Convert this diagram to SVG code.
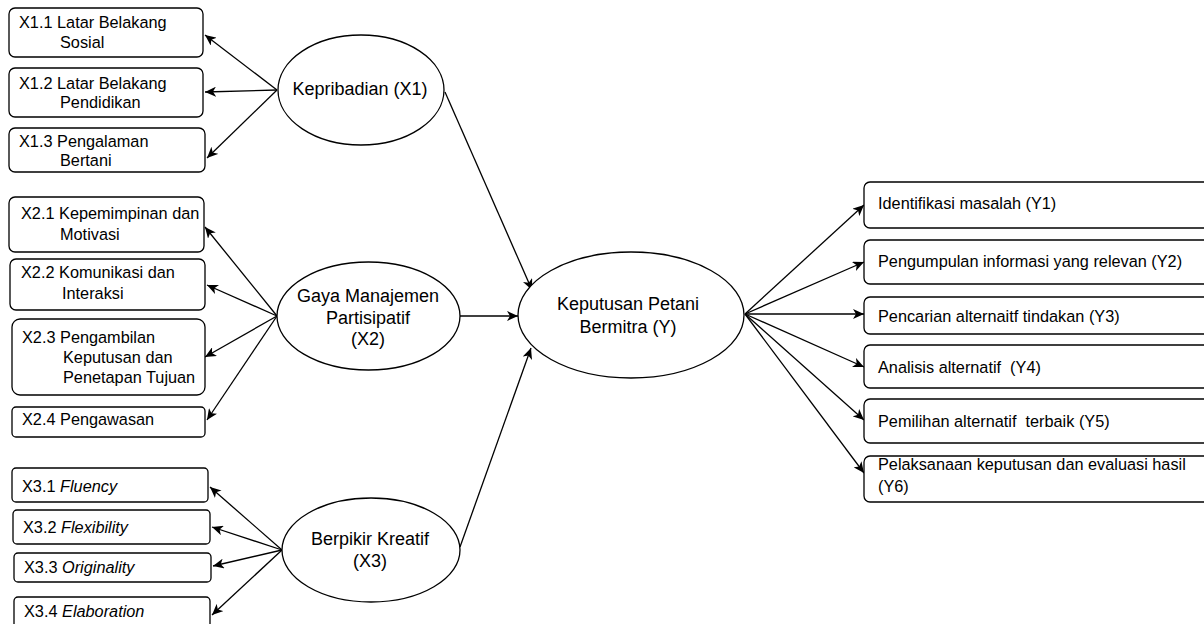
<svg xmlns="http://www.w3.org/2000/svg" width="1204" height="624" viewBox="0 0 1204 624">
<defs>
<style>
.box{fill:#fff;stroke:#000;stroke-width:1.3}
.ell{fill:#fff;stroke:#000;stroke-width:1.3}
.t{font-family:"Liberation Sans",Arial,sans-serif;font-size:16.3px;fill:#000;white-space:pre}
.c{text-anchor:middle;font-size:18px}
.i{font-style:italic}
.ln{stroke:#000;stroke-width:1.3;fill:none;marker-end:url(#ah)}
</style>
<marker id="ah" markerUnits="userSpaceOnUse" markerWidth="12" markerHeight="10" viewBox="0 0 12 10" refX="11" refY="5" orient="auto">
<path d="M0,0 L11,5 L0,10 L3,5 z" fill="#000"/>
</marker>
</defs>
<rect width="1204" height="624" fill="#fff"/>
<g id="connectors">
<line class="ln" x1="277" y1="90" x2="205" y2="35"/>
<line class="ln" x1="277" y1="90" x2="205" y2="92"/>
<line class="ln" x1="277" y1="90" x2="207" y2="158"/>
<line class="ln" x1="277" y1="316" x2="205" y2="227"/>
<line class="ln" x1="277" y1="316" x2="207" y2="285"/>
<line class="ln" x1="277" y1="316" x2="205" y2="357"/>
<line class="ln" x1="277" y1="316" x2="207" y2="420"/>
<line class="ln" x1="282" y1="550" x2="210" y2="487"/>
<line class="ln" x1="282" y1="550" x2="212" y2="527"/>
<line class="ln" x1="282" y1="550" x2="213" y2="566"/>
<line class="ln" x1="282" y1="550" x2="212" y2="615"/>
<line class="ln" x1="445" y1="92" x2="532" y2="290"/>
<line class="ln" x1="460" y1="316" x2="518" y2="316"/>
<line class="ln" x1="460" y1="547" x2="531" y2="348"/>
<line class="ln" x1="745" y1="314" x2="864" y2="205"/>
<line class="ln" x1="745" y1="314" x2="864" y2="262"/>
<line class="ln" x1="745" y1="314" x2="864" y2="314"/>
<line class="ln" x1="745" y1="314" x2="864" y2="367"/>
<line class="ln" x1="745" y1="314" x2="864" y2="420"/>
<line class="ln" x1="745" y1="314" x2="864" y2="473"/>
</g>
<g id="x1">
<ellipse class="ell" cx="361" cy="90" rx="83" ry="55"/>
<text class="t c" x="360" y="95">Kepribadian (X1)</text>
</g>
<g id="x11"><rect class="box" x="9" y="8" width="194" height="49" rx="6"/><text class="t" x="19" y="28">X1.1 Latar Belakang</text><text class="t" x="60" y="48">Sosial</text></g>
<g id="x12"><rect class="box" x="9" y="68" width="194" height="49" rx="6"/><text class="t" x="19" y="89">X1.2 Latar Belakang</text><text class="t" x="60" y="108">Pendidikan</text></g>
<g id="x13"><rect class="box" x="9" y="128" width="196" height="44" rx="6"/><text class="t" x="19" y="147">X1.3 Pengalaman</text><text class="t" x="60" y="166">Bertani</text></g>
<g id="x2">
<ellipse class="ell" cx="368.5" cy="316" rx="91.5" ry="54"/>
<text class="t c" x="368" y="302">Gaya Manajemen</text>
<text class="t c" x="368" y="324">Partisipatif</text>
<text class="t c" x="368" y="345">(X2)</text>
</g>
<g id="x21"><rect class="box" x="9" y="197" width="195" height="55" rx="6"/><text class="t" x="21" y="219">X2.1 Kepemimpinan dan</text><text class="t" x="60" y="240">Motivasi</text></g>
<g id="x22"><rect class="box" x="10" y="259" width="195" height="51" rx="6"/><text class="t" x="21" y="278">X2.2 Komunikasi dan</text><text class="t" x="62" y="299">Interaksi</text></g>
<g id="x23"><rect class="box" x="12" y="319" width="193" height="76" rx="8"/><text class="t" x="22" y="343">X2.3 Pengambilan</text><text class="t" x="63" y="363">Keputusan dan</text><text class="t" x="63" y="383">Penetapan Tujuan</text></g>
<g id="x24"><rect class="box" x="12" y="407" width="193" height="30" rx="4"/><text class="t" x="22" y="425">X2.4 Pengawasan</text></g>
<g id="x3">
<ellipse class="ell" cx="371" cy="550" rx="89" ry="52"/>
<text class="t c" x="370" y="545">Berpikir Kreatif</text>
<text class="t c" x="370" y="567">(X3)</text>
</g>
<g id="x31"><rect class="box" x="12" y="468" width="196" height="34" rx="4"/><text class="t" x="22" y="492">X3.1 <tspan class="i">Fluency</tspan></text></g>
<g id="x32"><rect class="box" x="13" y="510" width="197" height="34" rx="4"/><text class="t" x="23" y="533">X3.2 <tspan class="i">Flexibility</tspan></text></g>
<g id="x33"><rect class="box" x="14" y="553" width="197" height="29" rx="4"/><text class="t" x="24" y="573">X3.3 <tspan class="i">Originality</tspan></text></g>
<g id="x34"><rect class="box" x="14" y="597" width="196" height="40" rx="4"/><text class="t" x="24" y="617">X3.4 <tspan class="i">Elaboration</tspan></text></g>
<g id="y">
<ellipse class="ell" cx="631" cy="315" rx="113" ry="63"/>
<text class="t c" x="628" y="310">Keputusan Petani</text>
<text class="t c" x="628" y="333">Bermitra (Y)</text>
</g>
<g id="y1"><rect class="box" x="864" y="182" width="350" height="46" rx="6"/><text class="t" x="878" y="209">Identifikasi masalah (Y1)</text></g>
<g id="y2"><rect class="box" x="864" y="240" width="350" height="44" rx="6"/><text class="t" x="878" y="267">Pengumpulan informasi yang relevan (Y2)</text></g>
<g id="y3"><rect class="box" x="864" y="297" width="350" height="37" rx="6"/><text class="t" x="878" y="322">Pencarian alternaitf tindakan (Y3)</text></g>
<g id="y4"><rect class="box" x="864" y="345" width="350" height="43" rx="6"/><text class="t" x="878" y="373">Analisis alternatif  (Y4)</text></g>
<g id="y5"><rect class="box" x="864" y="399" width="350" height="44" rx="6"/><text class="t" x="878" y="427">Pemilihan alternatif  terbaik (Y5)</text></g>
<g id="y6"><rect class="box" x="864" y="456" width="350" height="46" rx="6"/><text class="t" x="878" y="470">Pelaksanaan keputusan dan evaluasi hasil</text><text class="t" x="878" y="492">(Y6)</text></g>
</svg>
